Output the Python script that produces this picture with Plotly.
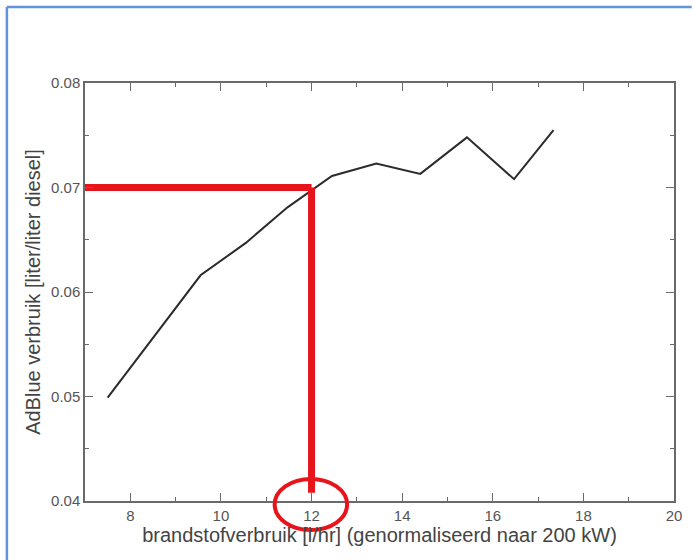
import plotly.graph_objects as go

# Data
fuel_use = [7.5, 9.55, 10.55, 11.47, 12.45, 13.43, 14.4, 15.43, 16.47, 17.34]
adblue_ratio = [0.0499, 0.0616, 0.0647, 0.0681, 0.0711, 0.0723, 0.0713, 0.0748, 0.0708, 0.0755]

# Red reading guide
guide_x_h = [7, 12]
guide_y_h = [0.07, 0.07]
guide_x_v = [12, 12]
guide_y_v = [0.07, 0.0408]

x_range = [7, 20]
y_range = [0.04, 0.08]
x_ticks = [8, 10, 12, 14, 16, 18, 20]
y_ticks = [0.04, 0.05, 0.06, 0.07, 0.08]

FONT = "Liberation Sans, Arial, sans-serif"
AXC = "#6a6a6a"

fig = go.Figure()
fig.add_trace(go.Scatter(x=fuel_use, y=adblue_ratio, mode="lines",
                         line=dict(color="#2b2b2b", width=2), showlegend=False))
fig.add_trace(go.Scatter(x=guide_x_h, y=guide_y_h, mode="lines",
                         line=dict(color="#e8141c", width=7), showlegend=False))
fig.add_trace(go.Scatter(x=guide_x_v, y=guide_y_v, mode="lines",
                         line=dict(color="#e8141c", width=7), showlegend=False))

# circle around the "12" tick label (paper coords)
fig.add_shape(type="circle", xref="paper", yref="paper",
              x0=0.322, x1=0.445, y0=-0.0694, y1=0.0526,
              line=dict(color="#e8141c", width=4))

# blue frame of the screenshot
fig.add_shape(type="line", xref="paper", yref="paper",
              x0=-0.1326, x1=1.03, y0=1.1818, y1=1.1818,
              line=dict(color="#5f95dc", width=2.5))
fig.add_shape(type="line", xref="paper", yref="paper",
              x0=-0.1326, x1=-0.1326, y0=1.1818, y1=-0.15,
              line=dict(color="#5f95dc", width=2.5))

axis_common = dict(showline=True, linecolor=AXC, linewidth=1.5, mirror="ticks",
                   ticks="inside", ticklen=8, tickcolor=AXC, tickwidth=1,
                   showgrid=False, zeroline=False,
                   tickfont=dict(family=FONT, size=15, color="#555555"))

fig.update_xaxes(range=x_range, tickvals=x_ticks,
                 minor=dict(ticks="inside", ticklen=4, dtick=1, tick0=7, tickcolor=AXC),
                 title=dict(text="brandstofverbruik [l/hr] (genormaliseerd naar 200 kW)",
                            font=dict(family=FONT, size=20, color="#444444"), standoff=3),
                 **axis_common)
fig.update_yaxes(range=y_range, tickvals=y_ticks, tickformat=".2f",
                 minor=dict(ticks="inside", ticklen=4, dtick=0.005, tick0=0.04, tickcolor=AXC),
                 title=dict(text="AdBlue verbruik [liter/liter diesel]",
                            font=dict(family=FONT, size=20, color="#444444"), standoff=5),
                 **axis_common)

fig.update_layout(width=694, height=560,
                  margin=dict(l=85, r=13, t=83, b=59),
                  paper_bgcolor="white", plot_bgcolor="white")

fig.write_html("out.html",
               config={"displayModeBar": False},
               post_script="document.body.style.margin='0';document.body.style.overflow='hidden';")
